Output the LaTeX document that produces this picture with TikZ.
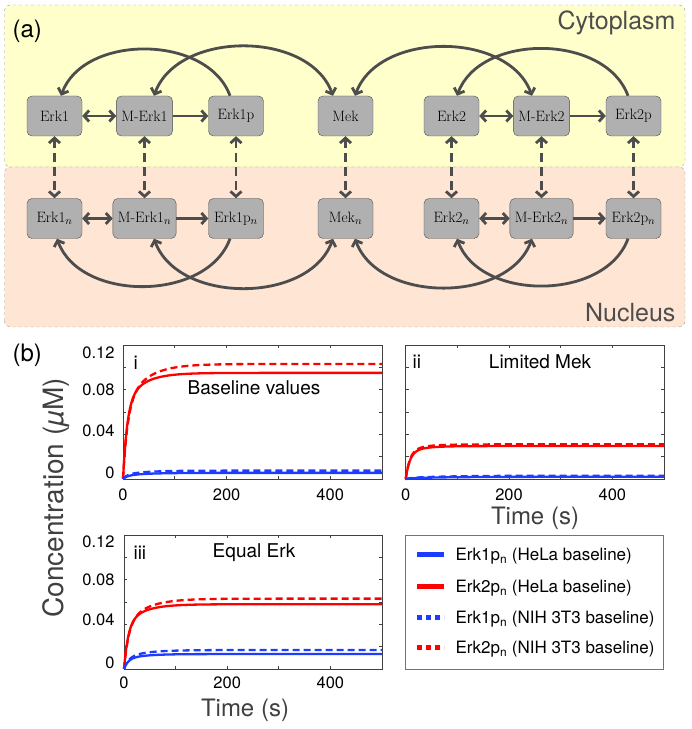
\documentclass[tikz,border=0pt]{standalone}
\usepackage{fontspec}
\newfontfamily\plotfont{TeX Gyre Heros}
\usetikzlibrary{arrows.meta}
\definecolor{cyto}{RGB}{255,255,204}
\definecolor{nucl}{RGB}{255,229,212}
\definecolor{edge}{RGB}{77,77,77}
\definecolor{boxgray}{RGB}{176,176,176}
\definecolor{plotred}{RGB}{255,0,0}
\definecolor{plotblue}{RGB}{30,60,255}
\definecolor{labgray}{RGB}{64,64,64}

% time course A*(1 - w e^{-t/tau1} - (1-w) e^{-t/tau2})
\newcommand{\respcurve}[4]{plot[domain=0:500,samples=201] (\x,{#1*(1-#2*exp(-\x/#3)-(1-#2)*exp(-\x/#4))})}
\newcommand{\axesframe}{%
  \draw[frame] (0,0) rectangle (500,0.12);
  \foreach \t in {100,200,300,400} {\draw[frame] (\t,0) -- ++(0,3pt); \draw[frame] (\t,0.12) -- ++(0,-3pt);}
  \foreach \v in {0.02,0.04,0.06,0.08,0.1} {\draw[frame] (0,\v) -- ++(3pt,0); \draw[frame] (500,\v) -- ++(-3pt,0);}
}

\begin{document}
\begin{tikzpicture}[x=1pt,y=1pt,>={Straight Barb[length=5pt,width=11pt]}]
\tikzset{
  species/.style={draw=edge,fill=boxgray,rounded corners=5pt,minimum width=55pt,minimum height=40pt,inner xsep=5pt,font=\fontsize{15}{18}\selectfont},
  react/.style={draw=edge,line width=2.8pt},
  shuttle/.style={react,dash pattern=on 9pt off 5pt,<->},
  compart/.style={draw=gray!75,dashed,rounded corners=6pt},
  region/.style={text=edge,font=\plotfont\fontsize{25}{30}\selectfont},
  panel/.style={font=\plotfont\fontsize{24}{28}\selectfont},
  frame/.style={draw=black!75,line width=0.8pt},
  hela/.style={line width=2.3pt},
  nih/.style={line width=2.3pt,dash pattern=on 7pt off 4pt},
  ticklbl/.style={font=\plotfont\fontsize{16.5}{19}\selectfont},
  plottitle/.style={font=\plotfont\fontsize{19}{22}\selectfont},
  axislbl/.style={text=labgray,font=\plotfont\fontsize{24}{28}\selectfont},
  legtext/.style={anchor=base west,font=\plotfont\fontsize{17}{20}\selectfont}
}
\useasboundingbox (0,0) rectangle (692,729);

% (a) compartments
\draw[compart,fill=cyto] (4.5,562) rectangle (685,724);
\draw[compart,fill=nucl] (4.5,402) rectangle (685,562);
\node[panel,anchor=west] (lbla) at (9,698) {(a)};
\node[region,anchor=east] (cytoplasm) at (679,706) {Cytoplasm};
\node[region,anchor=east] (nucleus) at (679,416) {Nucleus};

\node[species] (erk1) at (54.5,613) {Erk1};
\node[species] (merk1) at (144.5,613) {M-Erk1};
\node[species] (erk1p) at (236,613) {Erk1p};
\node[species] (mek) at (345.5,613) {Mek};
\node[species] (erk2) at (451.5,613) {Erk2};
\node[species] (merk2) at (541.5,613) {M-Erk2};
\node[species] (erk2p) at (633.5,613) {Erk2p};

\node[species] (nerk1) at (54.5,510.5) {Erk1$_n$};
\node[species] (nmerk1) at (144.5,510.5) {M-Erk1$_n$};
\node[species] (nerk1p) at (236,510.5) {Erk1p$_n$};
\node[species] (nmek) at (345.5,510.5) {Mek$_n$};
\node[species] (nerk2) at (451.5,510.5) {Erk2$_n$};
\node[species] (nmerk2) at (541.5,510.5) {M-Erk2$_n$};
\node[species] (nerk2p) at (633.5,510.5) {Erk2p$_n$};

\foreach \s in {erk1,merk1,erk1p,mek,erk2,merk2,erk2p}
  \draw[shuttle] (\s) -- (n\s);

\draw[react,<->] (erk1) -- (merk1);
\draw[react,->] (merk1) -- (erk1p);
\draw[react,<->] (erk2) -- (merk2);
\draw[react,->] (merk2) -- (erk2p);
\draw[react,<->] (nerk1) -- (nmerk1);
\draw[react,->] (nmerk1) -- (nerk1p);
\draw[react,<->] (nerk2) -- (nmerk2);
\draw[react,->] (nmerk2) -- (nerk2p);

\draw[react,->] ([xshift=-6pt]erk1p.north) to[out=110,in=70] ([xshift=6.5pt]erk1.north);
\draw[react,<->] ([xshift=9.5pt]merk1.north) to[out=70,in=110] ([xshift=-12.5pt]mek.north);
\draw[react,<->] ([xshift=9.5pt]mek.north) to[out=70,in=110] ([xshift=-9.5pt]merk2.north);
\draw[react,->] ([xshift=-5.5pt]erk2p.north) to[out=110,in=70] ([xshift=5.5pt]erk2.north);
\draw[react,->] ([xshift=-6pt]nerk1p.south) to[out=-110,in=-70] ([xshift=2.5pt]nerk1.south);
\draw[react,<->] ([xshift=9.5pt]nmerk1.south) to[out=-70,in=-110] ([xshift=-12.5pt]nmek.south);
\draw[react,<->] ([xshift=9.5pt]nmek.south) to[out=-70,in=-110] ([xshift=-9.5pt]nmerk2.south);
\draw[react,->] ([xshift=-5.5pt]nerk2p.south) to[out=-110,in=-70] ([xshift=5.5pt]nerk2.south);

% (b) time courses
\node[panel,anchor=west] (lblb) at (9,374) {(b)};
\node[axislbl,rotate=90,font=\plotfont\fontsize{28}{32}\selectfont] (ylab) at (56,231) {Concentration ({\itshape µ}M)};

\begin{scope}[shift={(123,250)},x=0.518pt,y=1117pt]
  \axesframe
  \draw[nih,plotred] \respcurve{0.103}{0.62}{9}{40};
  \draw[hela,plotred] \respcurve{0.095}{0.7}{8}{35};
  \draw[nih,plotblue] \respcurve{0.0075}{0.5}{8}{40};
  \draw[hela,plotblue] \respcurve{0.0055}{0.5}{8}{40};
\end{scope}
\node[plottitle,anchor=west] (tagi) at (130,366) {i};
\node[plottitle] (titlei) at (254,341) {Baseline values};
\foreach \v/\yy in {0.12/376,0.08/339,0.04/298,0/256}
  \node[ticklbl,anchor=east] at (118,\yy) {\v};
\foreach \t in {0,200,400}
  \node[ticklbl] at ({123+0.518*\t},234) {\t};

\begin{scope}[shift={(405.7,250)},x=0.5166pt,y=1117pt]
  \axesframe
  \draw[nih,plotred] \respcurve{0.031}{0.8}{8}{30};
  \draw[hela,plotred] \respcurve{0.0295}{0.8}{8}{30};
  \draw[nih,plotblue] \respcurve{0.003}{0.3}{10}{80};
  \draw[hela,plotblue] \respcurve{0.002}{0.3}{10}{80};
\end{scope}
\node[plottitle,anchor=west] (tagii) at (409,367) {ii};
\node[plottitle] (titleii) at (540,367) {Limited Mek};
\foreach \t in {0,200,400}
  \node[ticklbl] at ({405.7+0.5166*\t},234) {\t};
\node[axislbl] (timeii) at (535,211) {Time (s)};

\begin{scope}[shift={(124,60)},x=0.516pt,y=1117pt]
  \axesframe
  \draw[nih,plotred] \respcurve{0.063}{0.62}{9}{40};
  \draw[hela,plotred] \respcurve{0.058}{0.68}{8}{35};
  \draw[nih,plotblue] \respcurve{0.017}{0.6}{9}{40};
  \draw[hela,plotblue] \respcurve{0.0134}{0.65}{8}{35};
\end{scope}
\node[plottitle,anchor=west] (tagiii) at (130,176) {iii};
\node[plottitle] (titleiii) at (254,176) {Equal Erk};
\foreach \v/\yy in {0.12/187,0.08/149,0.04/109,0/66}
  \node[ticklbl,anchor=east] at (118,\yy) {\v};
\foreach \t in {0,200,400}
  \node[ticklbl] at ({124+0.516*\t},46) {\t};
\node[axislbl] (timeiii) at (245,19) {Time (s)};

% legend
\draw[draw=black!55,line width=0.8pt,fill=white] (405.7,60) rectangle (663,194);
\draw[plotblue,line width=5pt] (417,174) -- (444,174);
\draw[plotred,line width=5pt] (417,142) -- (444,142);
\draw[plotblue,line width=5pt,dash pattern=on 5pt off 4pt] (417,111) -- (444,111);
\draw[plotred,line width=5pt,dash pattern=on 5pt off 4pt] (417,81) -- (444,81);
\node[legtext] (legA) at (452,168) {Erk1p\textsubscript{n} (HeLa baseline)};
\node[legtext] (legB) at (452,136) {Erk2p\textsubscript{n} (HeLa baseline)};
\node[legtext] (legC) at (452,105) {Erk1p\textsubscript{n} (NIH 3T3 baseline)};
\node[legtext] (legD) at (452,75) {Erk2p\textsubscript{n} (NIH 3T3 baseline)};
\end{tikzpicture}
\end{document}
